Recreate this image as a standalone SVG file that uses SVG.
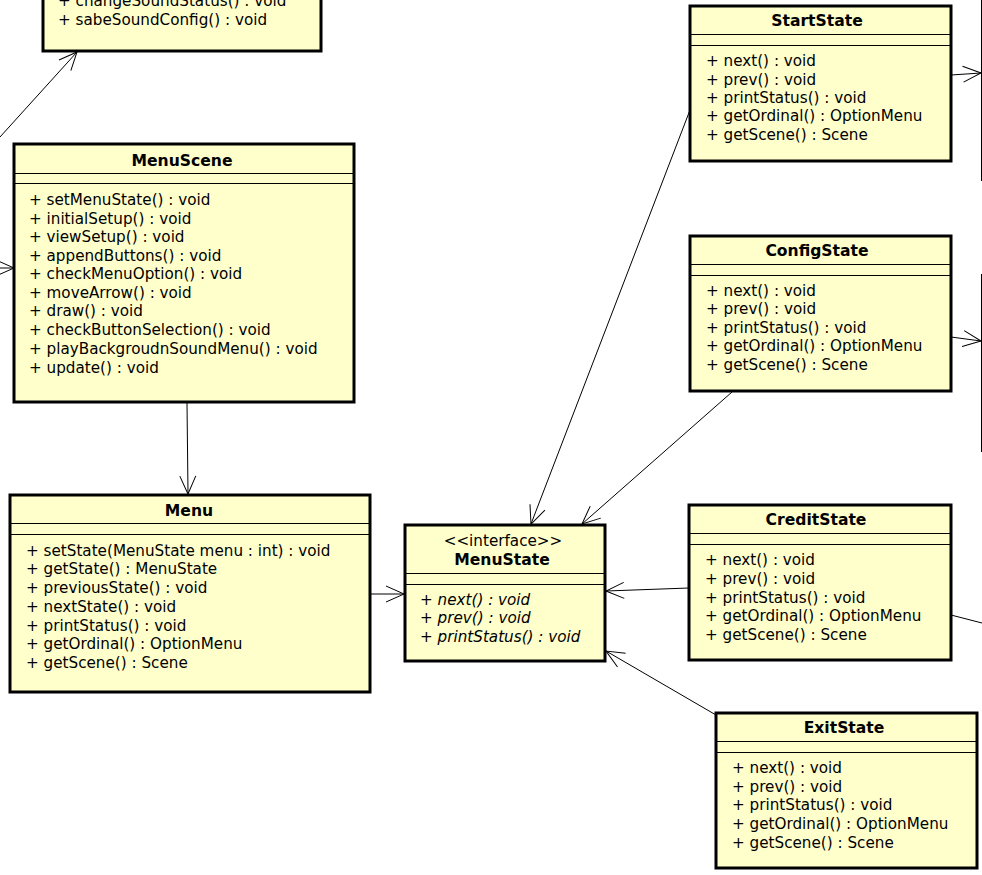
<svg xmlns="http://www.w3.org/2000/svg" width="982" height="875" viewBox="0 0 982 875">
<style>
.box{fill:#ffffcc;stroke:#000;stroke-width:3}
.sep{stroke:#000;stroke-width:1}
.t{font-family:"DejaVu Sans",sans-serif;font-size:15.2px;fill:#000}
.b{font-weight:bold;text-anchor:middle;font-size:15.6px}
.c{text-anchor:middle}
.i{font-style:italic}
.ln{stroke:#000;stroke-width:1;fill:none}
</style>
<defs>
<marker id="open" viewBox="0 0 20 20" refX="19" refY="10" markerWidth="20" markerHeight="20" markerUnits="userSpaceOnUse" orient="auto">
<path d="M1,2 L19,10 L1,18" fill="none" stroke="#000" stroke-width="1"/>
</marker>
</defs>
<rect width="982" height="875" fill="#fff"/>
<g id="edges">
<line class="ln" x1="0" y1="137" x2="77" y2="52" marker-end="url(#open)"/>
<line class="ln" x1="0" y1="268" x2="14" y2="268" marker-end="url(#open)"/>
<line class="ln" x1="187" y1="403" x2="188" y2="494" marker-end="url(#open)"/>
<line class="ln" x1="371" y1="594" x2="404" y2="594" marker-end="url(#open)"/>
<line class="ln" x1="690" y1="110" x2="531" y2="524" marker-end="url(#open)"/>
<line class="ln" x1="732" y1="392" x2="582" y2="524" marker-end="url(#open)"/>
<line class="ln" x1="689" y1="588" x2="606" y2="591" marker-end="url(#open)"/>
<line class="ln" x1="716" y1="715" x2="606" y2="651" marker-end="url(#open)"/>
<line class="ln" x1="951" y1="75" x2="981" y2="73" marker-end="url(#open)"/>
<line class="ln" x1="951" y1="337" x2="981" y2="341" marker-end="url(#open)"/>
<line class="ln" x1="951" y1="615" x2="982" y2="623"/>
<line class="ln" x1="981.5" y1="0" x2="981.5" y2="181"/>
<line class="ln" x1="981.5" y1="274" x2="981.5" y2="452"/>
</g>
<g id="SoundConfig">
<rect class="box" x="43" y="-20" width="278" height="71"/>
<text class="t" x="58" y="6">+ changeSoundStatus() : void</text>
<text class="t" x="58" y="25">+ sabeSoundConfig() : void</text>
</g>
<g id="MenuScene">
<rect class="box" x="14" y="144" width="340" height="258"/>
<text class="t b" x="182" y="166">MenuScene</text>
<line class="sep" x1="14" y1="173.5" x2="354" y2="173.5"/>
<line class="sep" x1="14" y1="183.5" x2="354" y2="183.5"/>
<text class="t" x="29" y="205">+ setMenuState() : void</text>
<text class="t" x="29" y="224">+ initialSetup() : void</text>
<text class="t" x="29" y="242">+ viewSetup() : void</text>
<text class="t" x="29" y="261">+ appendButtons() : void</text>
<text class="t" x="29" y="279">+ checkMenuOption() : void</text>
<text class="t" x="29" y="298">+ moveArrow() : void</text>
<text class="t" x="29" y="316">+ draw() : void</text>
<text class="t" x="29" y="335">+ checkButtonSelection() : void</text>
<text class="t" x="29" y="354">+ playBackgroudnSoundMenu() : void</text>
<text class="t" x="29" y="373">+ update() : void</text>
</g>
<g id="Menu">
<rect class="box" x="10" y="495" width="360" height="197"/>
<text class="t b" x="189" y="516">Menu</text>
<line class="sep" x1="10" y1="523.5" x2="370" y2="523.5"/>
<line class="sep" x1="10" y1="534.5" x2="370" y2="534.5"/>
<text class="t" x="26" y="556">+ setState(MenuState menu : int) : void</text>
<text class="t" x="26" y="574">+ getState() : MenuState</text>
<text class="t" x="26" y="593">+ previousState() : void</text>
<text class="t" x="26" y="612">+ nextState() : void</text>
<text class="t" x="26" y="631">+ printStatus() : void</text>
<text class="t" x="26" y="649">+ getOrdinal() : OptionMenu</text>
<text class="t" x="26" y="668">+ getScene() : Scene</text>
</g>
<g id="MenuState">
<rect class="box" x="405" y="525" width="200" height="136"/>
<text class="t c" x="503" y="546">&lt;&lt;interface&gt;&gt;</text>
<text class="t b" x="502" y="565">MenuState</text>
<line class="sep" x1="405" y1="573.5" x2="605" y2="573.5"/>
<line class="sep" x1="405" y1="584.5" x2="605" y2="584.5"/>
<text class="t i" x="420" y="605">+ next() : void</text>
<text class="t i" x="420" y="623">+ prev() : void</text>
<text class="t i" x="420" y="642">+ printStatus() : void</text>
</g>
<g id="StartState">
<rect class="box" x="690" y="6" width="261" height="155"/>
<text class="t b" x="817" y="26">StartState</text>
<line class="sep" x1="690" y1="34.5" x2="951" y2="34.5"/>
<line class="sep" x1="690" y1="45.5" x2="951" y2="45.5"/>
<text class="t" x="706" y="66">+ next() : void</text>
<text class="t" x="706" y="85">+ prev() : void</text>
<text class="t" x="706" y="103">+ printStatus() : void</text>
<text class="t" x="706" y="121">+ getOrdinal() : OptionMenu</text>
<text class="t" x="706" y="140">+ getScene() : Scene</text>
</g>
<g id="ConfigState">
<rect class="box" x="690" y="236" width="261" height="155"/>
<text class="t b" x="817" y="256">ConfigState</text>
<line class="sep" x1="690" y1="264.5" x2="951" y2="264.5"/>
<line class="sep" x1="690" y1="275.5" x2="951" y2="275.5"/>
<text class="t" x="706" y="296">+ next() : void</text>
<text class="t" x="706" y="314">+ prev() : void</text>
<text class="t" x="706" y="333">+ printStatus() : void</text>
<text class="t" x="706" y="351">+ getOrdinal() : OptionMenu</text>
<text class="t" x="706" y="370">+ getScene() : Scene</text>
</g>
<g id="CreditState">
<rect class="box" x="689" y="505" width="262" height="155"/>
<text class="t b" x="816" y="525">CreditState</text>
<line class="sep" x1="689" y1="533.5" x2="951" y2="533.5"/>
<line class="sep" x1="689" y1="544.5" x2="951" y2="544.5"/>
<text class="t" x="705" y="565">+ next() : void</text>
<text class="t" x="705" y="584">+ prev() : void</text>
<text class="t" x="705" y="603">+ printStatus() : void</text>
<text class="t" x="705" y="621">+ getOrdinal() : OptionMenu</text>
<text class="t" x="705" y="640">+ getScene() : Scene</text>
</g>
<g id="ExitState">
<rect class="box" x="716" y="713" width="261" height="155"/>
<text class="t b" x="844" y="733">ExitState</text>
<line class="sep" x1="716" y1="741.5" x2="977" y2="741.5"/>
<line class="sep" x1="716" y1="752.5" x2="977" y2="752.5"/>
<text class="t" x="732" y="773">+ next() : void</text>
<text class="t" x="732" y="792">+ prev() : void</text>
<text class="t" x="732" y="810">+ printStatus() : void</text>
<text class="t" x="732" y="829">+ getOrdinal() : OptionMenu</text>
<text class="t" x="732" y="848">+ getScene() : Scene</text>
</g>
</svg>
